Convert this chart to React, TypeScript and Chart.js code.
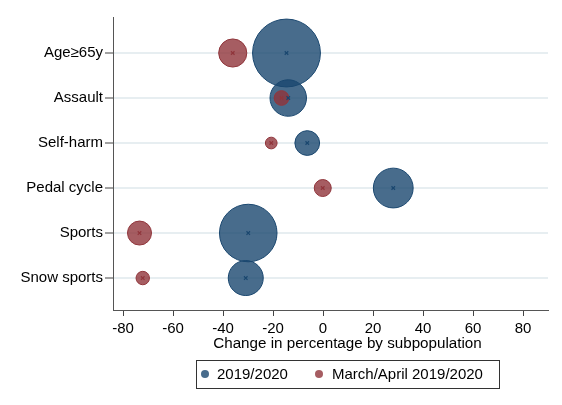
import React, { useEffect, useRef } from "react";
import { Chart, registerables } from "chart.js";

Chart.register(...registerables);

// Injury subgroups, top to bottom
const categories = ["Age≥65y", "Assault", "Self-harm", "Pedal cycle", "Sports", "Snow sports"];

// Percentage change and bubble weight, whole season 2019/2020
const fullYearChange = [-14.6, -13.9, -6.3, 28.1, -29.9, -30.9];
const fullYearWeight = [128, 37, 17, 44, 92, 34];

// Percentage change and bubble weight, March/April 2019/2020
const springChange = [-36.1, -16.6, -20.7, -0.1, -73.4, -72.1];
const springWeight = [22, 6, 3.8, 8, 16, 5];

const xTicks = [-80, -60, -40, -20, 0, 20, 40, 60, 80];
const seriesLabels = ["2019/2020", "March/April 2019/2020"];
const xTitle = "Change in percentage by subpopulation";

const NAVY = "rgb(26,71,111)";
const NAVY_FILL = "rgba(26,71,111,0.8)";
const MAROON = "rgb(144,53,59)";
const MAROON_FILL = "rgba(144,53,59,0.8)";
const FONT = '"Liberation Sans", Arial, Helvetica, sans-serif';

const yOf = (i: number) => categories.length - i;
const radiusOf = (w: number) => 3 * Math.sqrt(w);

const bubbles = (xs: number[], ws: number[]) =>
  xs.map((x, i) => ({ x, y: yOf(i), r: radiusOf(ws[i]) }));
const centers = (xs: number[]) => xs.map((x, i) => ({ x, y: yOf(i) }));

// Axis title and framed legend, centred on the whole graph region
const captionAndLegend = {
  id: "captionAndLegend",
  afterDraw(chart: any) {
    const ctx = chart.ctx;
    const centreX = 347.5;
    ctx.save();
    ctx.fillStyle = "#000";
    ctx.font = `15.2px ${FONT}`;
    ctx.textAlign = "center";
    ctx.textBaseline = "middle";
    ctx.fillText(xTitle, centreX, 344);

    const top = 360;
    const h = 28;
    const left = 196;
    const w = 303;
    const mid = top + h / 2;
    ctx.strokeStyle = "#333";
    ctx.lineWidth = 1;
    ctx.strokeRect(left + 0.5, top + 0.5, w, h);
    ctx.font = `15px ${FONT}`;
    ctx.textAlign = "left";
    const items = [
      { fill: NAVY_FILL, dot: 205, text: 217 },
      { fill: MAROON_FILL, dot: 319, text: 332 },
    ];
    items.forEach((it, k) => {
      ctx.beginPath();
      ctx.arc(it.dot, mid, 4, 0, Math.PI * 2);
      ctx.fillStyle = it.fill;
      ctx.fill();
      ctx.fillStyle = "#000";
      ctx.fillText(seriesLabels[k], it.text, mid + 1);
    });
    ctx.restore();
  },
};

export default function App() {
  const ref = useRef<HTMLCanvasElement>(null);

  useEffect(() => {
    if (!ref.current) return;
    const chart = new Chart(ref.current, {
      type: "bubble",
      data: {
        datasets: [
          {
            type: "scatter",
            data: centers(springChange),
            pointStyle: "crossRot",
            pointRadius: 2.5,
            borderColor: MAROON,
            borderWidth: 1.2,
          } as any,
          {
            type: "scatter",
            data: centers(fullYearChange),
            pointStyle: "crossRot",
            pointRadius: 2.5,
            borderColor: NAVY,
            borderWidth: 1.2,
          } as any,
          {
            label: seriesLabels[1],
            data: bubbles(springChange, springWeight),
            backgroundColor: MAROON_FILL,
            borderColor: MAROON,
            borderWidth: 1,
          },
          {
            label: seriesLabels[0],
            data: bubbles(fullYearChange, fullYearWeight),
            backgroundColor: NAVY_FILL,
            borderColor: NAVY,
            borderWidth: 1,
          },
        ],
      },
      options: {
        responsive: false,
        animation: false,
        events: [],
        clip: false as any,
        layout: { autoPadding: false, padding: { left: 0, right: 14, top: 17, bottom: 54 } },
        plugins: {
          legend: { display: false },
          tooltip: { enabled: false },
        },
        scales: {
          x: {
            type: "linear",
            min: -84,
            max: 90,
            afterBuildTicks: (s: any) => {
              s.ticks = xTicks.map((v) => ({ value: v }));
            },
            afterFit: (s: any) => {
              s.height = 41;
            },
            border: { display: true, color: "#555", width: 1 },
            grid: {
              drawOnChartArea: false,
              drawTicks: true,
              tickLength: 6,
              tickColor: "#444",
            },
            ticks: {
              color: "#000",
              padding: 5,
              maxRotation: 0,
              font: { family: FONT, size: 15, lineHeight: 1 },
              callback: (v: any) => String(v),
            },
          },
          y: {
            type: "linear",
            min: 0.29,
            max: 6.8,
            afterBuildTicks: (s: any) => {
              s.ticks = categories.map((_, i) => ({ value: yOf(i) }));
            },
            afterFit: (s: any) => {
              s.width = 113;
            },
            border: { display: true, color: "#555", width: 1 },
            grid: {
              color: "#e7eef1",
              lineWidth: 2,
              drawTicks: true,
              tickLength: 8,
              tickColor: "#444",
              tickWidth: 1,
            },
            ticks: {
              color: "#000",
              padding: 2,
              font: { family: FONT, size: 15 },
              callback: (v: any) => categories[categories.length - Math.round(v)] ?? "",
            },
          },
        },
      },
      plugins: [captionAndLegend],
    });
    return () => chart.destroy();
  }, []);

  return (
    <div style={{ position: "fixed", left: 0, top: 0, width: 562, height: 405, background: "#fff" }}>
      <canvas ref={ref} width={562} height={405} style={{ display: "block" }} />
    </div>
  );
}
